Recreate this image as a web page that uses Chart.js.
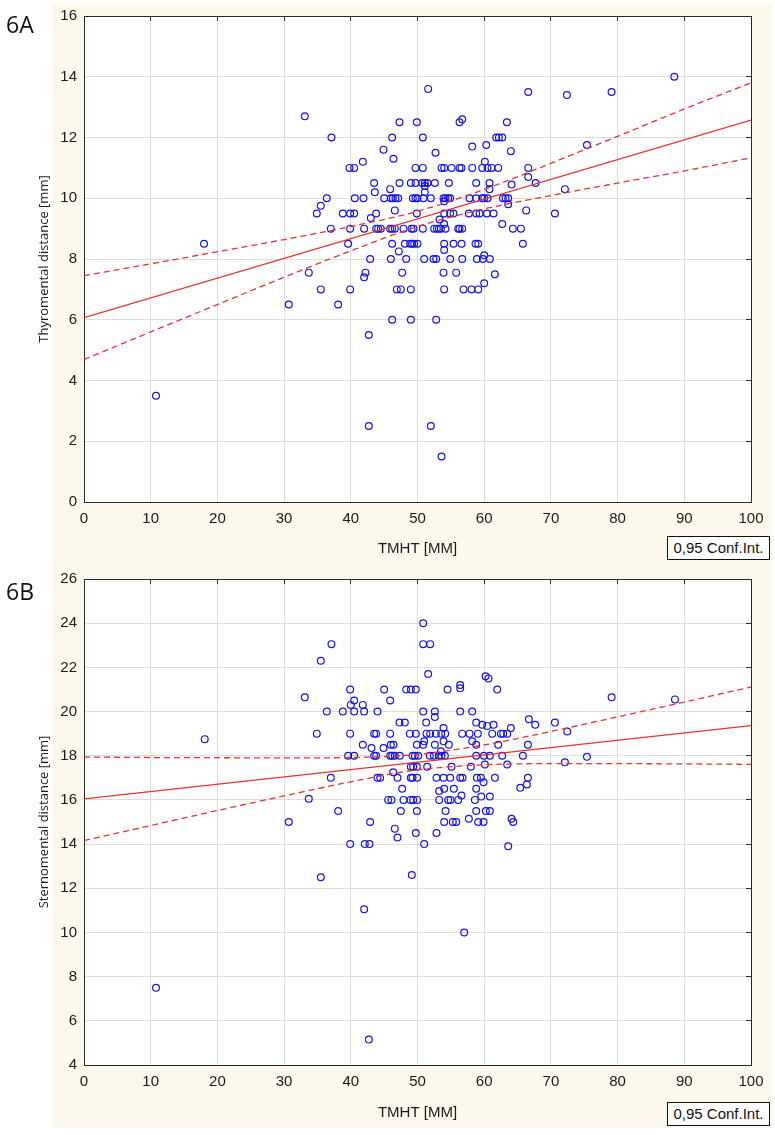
<!DOCTYPE html>
<html>
<head>
<meta charset="utf-8">
<script src="https://cdn.jsdelivr.net/npm/chart.js@4.4.1/dist/chart.umd.min.js"></script>
<style>
  html, body { margin: 0; padding: 0; background: #fff; }
  body { width: 775px; height: 1135px; position: relative; overflow: hidden; }
  canvas { position: absolute; left: 0; }
  #chartA { top: 0; }
  #chartB { top: 562px; }
  .panel-label { position: absolute; left: 6px; font-family: "Open Sans", sans-serif; font-size: 23px; line-height: 23px; color: #111; }
  .ci-box { position: absolute; left: 667px; width: 101px; height: 22px; border: 1px solid #111; background: #fff;
            font-family: "Liberation Sans", Arial, sans-serif; font-size: 15px; line-height: 22px; text-align: center; color: #111; }
</style>
</head>
<body>
<canvas id="chartA" width="775" height="562"></canvas>
<canvas id="chartB" width="775" height="573"></canvas>
<div class="panel-label" style="top:13px">6A</div>
<div class="panel-label" style="top:580px">6B</div>
<div class="ci-box" style="top:536px">0,95 Conf.Int.</div>
<div class="ci-box" style="top:1102px">0,95 Conf.Int.</div>
<script>
// 6A: TMHT vs thyromental distance
const pointsA = [
  [10.8,3.5],[18.0,8.5],[42.7,2.5],[52.0,2.5],[53.6,1.5],[88.5,14.0],
  [51.6,13.6],[33.1,12.7],[37.1,12.0],[47.3,12.5],[49.9,12.5],[56.3,12.5],[56.7,12.6],
  [46.2,12.0],[50.8,12.0],[58.2,11.7],[44.9,11.6],[52.7,11.5],[46.4,11.3],[41.8,11.2],
  [39.8,11],[40.5,11],[49.7,11],[50.8,11],[53.6,11],[54.0,11],[55.1,11],[56.3,11],[56.6,11],[58.2,11],
  [43.5,10.5],[47.3,10.5],[49.0,10.5],[49.7,10.5],[50.7,10.5],[51.1,10.5],[51.5,10.5],[52.6,10.5],[54.7,10.5],[58.8,10.5],
  [43.6,10.2],[45.9,10.3],[51.1,10.4],[51.1,10.2],
  [36.4,10],[40.6,10],[41.9,10],[45.0,10],[46.0,10],[46.3,10],[46.7,10],[47.1,10],[49.3,10],[49.7,10],
  [50.0,10],[50.9,10],[52.0,10],[53.9,10],[54.2,10],[54.6,10],[54.9,10],[57.8,10],[58.8,10],
  [35.5,9.75],[34.9,9.5],[46.6,9.6],[54.0,9.9],
  [38.8,9.5],[39.9,9.5],[40.5,9.5],[43.8,9.5],[49.9,9.5],[54.0,9.5],[54.9,9.5],[55.4,9.5],[57.7,9.5],[58.8,9.5],
  [43.0,9.35],[53.3,9.3],[54.0,9.15],
  [37.0,9],[39.9,9],[42.0,9],[43.8,9],[44.1,9],[44.5,9],[45.9,9],[46.2,9],[46.6,9],[47.9,9],[49.1,9],
  [49.4,9],[50.8,9],[52.5,9],[52.9,9],[53.2,9],[53.5,9],[54.2,9],[56.1,9],[56.3,9],[56.7,9],
  [39.6,8.5],
  [46.2,8.5],[48.1,8.5],[48.9,8.5],[49.2,8.5],[49.5,8.5],[50.0,8.5],[54.0,8.5],[55.4,8.5],[56.6,8.5],[58.7,8.5],[59.1,8.5],
  [47.2,8.25],[54.0,8.3],
  [42.9,8],[46.0,8],[48.3,8],[51.0,8],[52.4,8],[52.8,8],[54.9,8],[56.7,8],[58.9,8],
  [33.7,7.55],[42.2,7.55],[42.0,7.4],[47.7,7.55],[53.9,7.55],[55.8,7.55],
  [35.5,7],[39.9,7],[46.9,7],[47.5,7],[49.0,7],[54.0,7],[56.9,7],[58.1,7],[59.1,7],
  [30.7,6.5],[38.1,6.5],[46.2,6],[49.0,6],[52.8,6],[42.7,5.5],
  [66.6,13.5],[72.4,13.4],[79.1,13.5],[63.4,12.5],[61.8,12],[62.2,12],[62.7,12],[60.3,11.75],[64.0,11.55],[75.4,11.75],[60.1,11.2],
  [59.7,11],[60.5,11],[61.1,11],[62.1,11],[66.6,11],
  [66.6,10.7],[67.7,10.5],[60.8,10.5],[60.8,10.3],[64.1,10.45],[72.1,10.3],
  [59.7,10],[60.0,10],[60.5,10],[62.8,10],[63.2,10],[63.6,10],[63.6,9.8],
  [59.3,9.5],[60.4,9.5],[61.4,9.5],[70.6,9.5],[66.3,9.6],[62.7,9.15],[64.3,9],[65.5,9],[65.8,8.5],
  [59.8,8],[60.85,8],[60.0,8.12],[61.6,7.5],[60.0,7.2]
];
const fitA = [[0,6.07],[100,12.57]];
const ciX = [0,10,20,30,40,50,60,70,80,90,100];
const ciUpperA = [7.45,7.84,8.24,8.64,9.07,9.57,10.29,11.15,12.04,12.94,13.8];
const ciLowerA = [4.69,5.60,6.50,7.40,8.27,9.07,9.65,10.09,10.50,10.90,11.33];

// 6B: TMHT vs sternomental distance
const pointsB = [
  [10.8,7.5],[18.1,18.75],[42.7,5.15],[57.0,10.0],[88.6,20.55],
  [50.85,24.0],[50.85,23.05],[51.9,23.05],[37.1,23.05],[35.5,22.3],[51.6,21.7],[33.1,20.65],
  [39.9,21],[45.0,21],[48.3,21],[49.0,21],[49.75,21],[54.5,21],[56.4,21.2],[56.4,21.05],
  [40.5,20.5],[41.8,20.3],[40.0,20.3],[45.9,20.5],
  [36.4,20],[38.8,20],[40.5,20],[42.0,20],[44.0,20],[50.85,20],[52.6,20],[56.4,20],[58.2,20],
  [52.6,19.75],[47.3,19.5],[48.1,19.5],[51.3,19.5],[53.9,19.25],[58.8,19.5],
  [34.9,19],[39.9,19],[43.5,19],[43.8,19],[45.9,19],[48.85,19],[49.75,19],[51.35,19],[51.9,19],
  [52.75,19],[53.55,19],[54.15,19],[56.7,19],[57.8,19],[59.05,19],
  [51.0,18.65],[41.8,18.5],[43.1,18.35],[44.9,18.35],[46.0,18.5],[46.4,18.5],[49.9,18.5],[50.85,18.5],
  [52.6,18.5],[53.9,18.65],[54.7,18.5],[58.2,18.65],[58.8,18.5],
  [39.6,18],[40.5,18],[43.5,18],[43.8,18],[45.9,18],[46.2,18],[46.6,18],[47.35,18],[49.25,18],
  [49.6,18],[50.1,18],[51.85,18],[52.45,18],[53.2,18],[53.6,18],[54.1,18],[58.8,18],[53.5,18.2],
  [49.0,17.5],[49.35,17.5],[49.9,17.5],[51.45,17.5],[55.1,17.5],[58.0,17.5],[37.0,17.0],
  [44.0,17],[44.4,17],[47.0,17],[49.0,17],[49.25,17],[49.95,17],[52.85,17],[53.9,17],[54.9,17],[56.4,17],[56.75,17],[58.9,17],
  [46.35,17.25],[47.7,16.5],[53.25,16.4],[54.0,16.5],[55.45,16.5],[56.6,16.2],[58.8,16.5],[33.7,16.05],
  [45.6,16],[46.1,16],[47.9,16],[48.95,16],[49.35,16],[49.95,16],[53.25,16],[54.6,16],[54.95,16],[56.1,16],[58.6,16],
  [38.1,15.5],[47.5,15.5],[49.9,15.5],[54.2,15.5],[58.8,15.5],
  [30.7,15.0],[42.9,15.0],[54.0,15.0],[55.3,15.0],[55.8,15.0],[57.7,15.15],[59.1,15.0],
  [46.6,14.7],[47.0,14.3],[49.75,14.5],[52.85,14.5],
  [39.9,14],[42.1,14],[42.8,14],[51.0,14],
  [35.5,12.5],[49.15,12.6],[42.0,11.05],
  [60.2,21.6],[60.65,21.5],[61.95,21.0],[79.1,20.65],
  [59.7,19.4],[60.45,19.35],[61.4,19.4],[66.7,19.65],[67.65,19.4],[70.6,19.5],[64.0,19.25],[72.45,19.1],
  [61.2,19],[62.5,19],[62.85,19],[63.45,19],
  [62.1,18.5],[66.55,18.5],
  [59.95,18],[60.85,18],[62.7,18],[65.8,18],[75.4,17.95],
  [60.1,17.6],[63.45,17.6],[72.1,17.7],
  [59.5,17],[61.6,17],[66.55,17],
  [59.9,16.8],[66.4,16.7],[65.4,16.55],
  [59.55,16.15],[60.85,16.15],
  [60.25,15.5],[60.85,15.5],
  [59.9,15.0],[64.1,15.15],[64.35,15.0],
  [63.6,13.9]
];
const fitB = [[0,16.05],[100,19.36]];
const ciUpperB = [17.94,17.92,17.91,17.90,17.92,18.06,18.49,19.10,19.76,20.43,21.11];
const ciLowerB = [14.16,14.84,15.52,16.18,16.82,17.36,17.59,17.64,17.64,17.63,17.61];

const xTicks = {min: 0, max: 100, step: 10};

const CREAM = '#fcf8ec';
const BLUE = '#1414ec';
const RED = '#e8322c';
const GRID = '#dddddd';
const AXIS = '#2a2a2a';
const tickFont = {family: '"Liberation Sans", Arial, sans-serif', size: 15};

const toXY = arr => arr.map(p => ({x: p[0], y: p[1]}));
const band = ys => ys.map((y, i) => ({x: ciX[i], y: y}));

// paints the cream panel and the white plot area
const panelBg = {
  id: 'panelBg',
  beforeDraw(chart, args, opts) {
    const {ctx, chartArea} = chart;
    ctx.save();
    ctx.fillStyle = '#fff';
    ctx.fillRect(0, 0, chart.width, chart.height);
    ctx.fillStyle = CREAM;
    ctx.fillRect(52, opts.top, 720, opts.bottom - opts.top);
    ctx.fillStyle = '#fff';
    ctx.fillRect(chartArea.left, chartArea.top, chartArea.right - chartArea.left, chartArea.bottom - chartArea.top);
    ctx.restore();
  }
};

function makeChart(id, pts, fit, up, lo, yMin, yMax, yTitle, pad, xAxisH, titlePadB, bg) {
  const lineBase = {type: 'line', borderColor: RED, borderWidth: 1.3, pointRadius: 0, fill: false};
  return new Chart(document.getElementById(id), {
    type: 'scatter',
    data: {
      datasets: [
        Object.assign({}, lineBase, {data: toXY(fit)}),
        Object.assign({}, lineBase, {data: band(up), borderDash: [6, 4], cubicInterpolationMode: 'monotone'}),
        Object.assign({}, lineBase, {data: band(lo), borderDash: [6, 4], cubicInterpolationMode: 'monotone'}),
        {
          data: toXY(pts),
          pointStyle: 'circle',
          pointRadius: 3.4,
          pointBorderWidth: 1.2,
          borderColor: BLUE,
          backgroundColor: 'rgba(0,0,0,0)',
          pointHoverRadius: 3.4
        }
      ]
    },
    options: {
      responsive: false,
      animation: false,
      events: [],
      layout: {padding: pad},
      plugins: {legend: {display: false}, tooltip: {enabled: false}, panelBg: bg},
      scales: {
        x: {
          type: 'linear', position: 'bottom', min: xTicks.min, max: xTicks.max,
          ticks: {stepSize: xTicks.step, font: tickFont, color: '#1a1a1a', padding: 8, maxRotation: 0},
          grid: {color: GRID, drawTicks: false},
          border: {color: AXIS, width: 1},
          title: {display: true, text: 'TMHT [MM]', font: tickFont, color: '#1a1a1a', padding: {top: 0, bottom: titlePadB}},
          afterFit: s => { s.height = xAxisH; }
        },
        y: {
          type: 'linear', position: 'left', min: yMin, max: yMax,
          ticks: {stepSize: 2, font: tickFont, color: '#1a1a1a', padding: 7},
          grid: {color: GRID, drawTicks: false},
          border: {color: AXIS, width: 1},
          title: {display: true, text: yTitle, font: {family: '"Open Sans", sans-serif', size: 13}, color: '#1a1a1a', padding: {top: 36, bottom: 0}},
          afterFit: s => { s.width = 84; }
        },
        x2: {
          type: 'linear', position: 'top', min: xTicks.min, max: xTicks.max,
          ticks: {stepSize: xTicks.step, display: false},
          grid: {drawOnChartArea: false, tickLength: -5, tickColor: AXIS},
          border: {color: AXIS, width: 1},
          afterFit: s => { s.height = 0; }
        },
        y2: {
          type: 'linear', position: 'right', min: yMin, max: yMax,
          ticks: {stepSize: 2, display: false},
          grid: {drawOnChartArea: false, tickLength: -5, tickColor: AXIS},
          border: {color: AXIS, width: 1},
          afterFit: s => { s.width = 0; }
        }
      }
    },
    plugins: [panelBg]
  });
}

makeChart('chartA', pointsA, fitA, ciUpperA, ciLowerA, 0, 16, 'Thyromental distance [mm]',
  {top: 16, right: 24, left: 0, bottom: 0}, 60, 4, {top: 3, bottom: 562});
makeChart('chartB', pointsB, fitB, ciUpperB, ciLowerB, 4, 26, 'Sternomental distance [mm]',
  {top: 17, right: 24, left: 0, bottom: 0}, 70, 13, {top: 0, bottom: 566});
</script>
</body>
</html>
